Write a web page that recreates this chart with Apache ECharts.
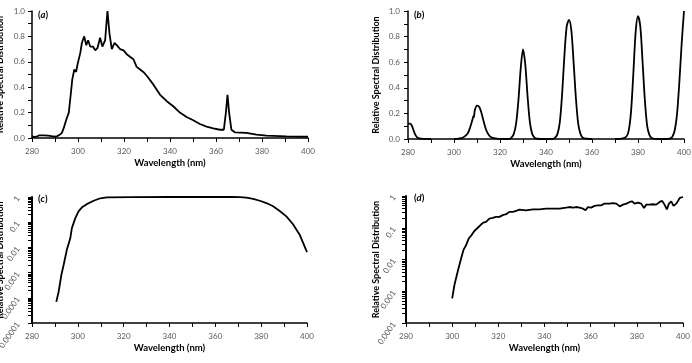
<!DOCTYPE html>
<html>
<head>
<meta charset="utf-8">
<script src="https://cdn.jsdelivr.net/npm/echarts@6/dist/echarts.min.js"></script>
<style>
html,body{margin:0;padding:0;background:#fff;}
#c{width:692px;height:363px;}
</style>
</head>
<body>
<div id="c"></div>
<script>
// ---------- data ----------
const xTickLabels = [280, 300, 320, 340, 360, 380, 400];
const linTickLabels = ['0.0', '0.2', '0.4', '0.6', '0.8', '1.0'];
const logTickLabelsC = ['0.00001', '0.0001', '0.001', '0.01', '0.1', '1'];
const logTickLabelsD = ['0.0001', '0.001', '0.01', '0.1', '1'];
const minorMultipliers = [2, 3, 4, 5, 6, 7, 8, 9];
const panelLetters = ['a', 'b', 'c', 'd'];

// (a)
const wlA = [280, 281, 282, 283, 285, 287, 289, 290, 291, 292, 293, 294, 295, 296, 297, 297.5, 298.4, 299.2, 299.8, 301, 301.7, 302.7, 303.6, 304.4, 305.3, 306.5, 307.5, 308.5, 309.6, 310.6, 311.8, 312.8, 313.7, 314.7, 315.9, 316.9, 318.3, 319.8, 321.2, 322.6, 324.1, 325.5, 327, 328.4, 329.9, 332.8, 335.7, 338.6, 341.4, 344.3, 347.2, 350.1, 353, 355.9, 358.8, 361.7, 363.4, 364.3, 365, 365.7, 366.7, 368.2, 373.2, 377.6, 381.9, 390.6, 400];
const valA = [0.013, 0.008, 0.01, 0.02, 0.02, 0.018, 0.013, 0.01, 0.015, 0.025, 0.04, 0.09, 0.15, 0.2, 0.37, 0.46, 0.54, 0.52, 0.58, 0.67, 0.75, 0.8, 0.73, 0.77, 0.72, 0.72, 0.69, 0.71, 0.79, 0.72, 0.77, 1.0, 0.82, 0.70, 0.75, 0.73, 0.70, 0.69, 0.66, 0.64, 0.62, 0.56, 0.54, 0.52, 0.49, 0.42, 0.34, 0.29, 0.25, 0.2, 0.165, 0.14, 0.11, 0.09, 0.076, 0.065, 0.065, 0.2, 0.34, 0.2, 0.065, 0.045, 0.04, 0.026, 0.018, 0.013, 0.01];

// (b)  (null = gap in the measured spectrum)
const wlB = [280, 281, 281.5, 282, 283, 284, 285, 287, 290, 295, 300, 302, 304, 306, 307, 308, 308.5, 308.7, 309, 310, 311, 312, 313, 314, 315, 316, 318, 320, 322, 324, 325, 326, 327, 328, 329, 330, 331, 332, 333, 334, 335, 336, 340, 343, 344, 345, 346, 347, 348, 349, 350, 351, 352, 353, 354, 355, 356, 358, 360, 365, 370, 373, 375, 376, 377, 378, 379, 380, 381, 382, 383, 384, 385, 386, 388, 390, 392, 394, 395, 396, 397, 398, 399, 400];
const valB = [0.12, 0.12, 0.11, 0.09, 0.04, 0.012, 0.004, 0.001, 0, null, 0, 0.003, 0.012, 0.045, 0.09, 0.15, 0.18, 0.17, 0.22, 0.26, 0.25, 0.2, 0.13, 0.07, 0.035, 0.015, 0.004, 0.001, 0, 0, 0.01, 0.04, 0.12, 0.3, 0.55, 0.70, 0.58, 0.33, 0.13, 0.04, 0.01, 0.002, 0, 0, 0.01, 0.04, 0.13, 0.35, 0.65, 0.88, 0.93, 0.85, 0.6, 0.32, 0.12, 0.04, 0.01, 0.002, 0, null, 0, 0.003, 0.02, 0.07, 0.22, 0.52, 0.84, 0.96, 0.88, 0.6, 0.3, 0.1, 0.03, 0.008, 0, 0, 0, 0.005, 0.02, 0.07, 0.2, 0.45, 0.75, 1.0];

// (c)
const wlC = [290.6, 291.6, 292.8, 293.8, 295.2, 296.7, 297.4, 298.9, 300.3, 301.8, 303.9, 306.9, 309.8, 312.7, 324.3, 340, 360, 367, 370.7, 373.6, 376.5, 379.4, 382.3, 385.2, 388.1, 391, 393.9, 396.8, 400];
const valC = [0.000069, 0.00017, 0.0008, 0.002, 0.008, 0.023, 0.058, 0.145, 0.27, 0.39, 0.52, 0.71, 0.89, 0.97, 0.99, 1.0, 1.0, 1.0, 0.98, 0.95, 0.85, 0.71, 0.575, 0.43, 0.28, 0.17, 0.083, 0.032, 0.0065];

// (d)
const wlD = [300, 301, 302.4, 303.9, 304.9, 306, 307.2, 308.2, 309.6, 311.1, 312.5, 313.5, 314.7, 316.1, 317.6, 319, 320.5, 321.9, 323.4, 324.8, 326.3, 327.7, 329.2, 332, 335, 337.8, 340.7, 343.6, 346.5, 349.4, 350.8, 352.3, 353.7, 355.2, 356.7, 357.8, 358.8, 360.2, 361.7, 363.1, 364.6, 366, 368.2, 369.6, 371.1, 372.6, 374, 375.5, 376.9, 378, 379, 380.5, 381.9, 383.1, 384.1, 385.5, 387, 388.4, 389.9, 391, 392, 393, 393.9, 394.9, 395.9, 397.1, 398.6, 400];
const valD = [0.0006, 0.0016, 0.0042, 0.011, 0.02, 0.028, 0.046, 0.056, 0.079, 0.10, 0.126, 0.145, 0.154, 0.195, 0.205, 0.22, 0.22, 0.25, 0.267, 0.316, 0.316, 0.34, 0.37, 0.355, 0.38, 0.38, 0.40, 0.40, 0.40, 0.43, 0.45, 0.43, 0.45, 0.43, 0.40, 0.355, 0.45, 0.43, 0.49, 0.51, 0.51, 0.575, 0.575, 0.60, 0.575, 0.47, 0.535, 0.575, 0.65, 0.68, 0.575, 0.62, 0.575, 0.42, 0.535, 0.535, 0.55, 0.535, 0.65, 0.70, 0.535, 0.38, 0.575, 0.68, 0.49, 0.575, 0.87, 0.93];

// ---------- chart ----------
const zip = (xs, ys) => xs.map((x, i) => [x, ys[i] === null ? '-' : ys[i]]);
const FONT = 'Lato, "Liberation Sans", sans-serif';
const labelColor = '#595959';

const grids = [
  {left: 32, top: 11, width: 276, height: 127},
  {left: 408, top: 11, width: 276, height: 128},
  {left: 32, top: 197, width: 275, height: 126},
  {left: 406, top: 196, width: 277, height: 127}
].map(g => Object.assign(g, {outerBoundsMode: 'none', containLabel: false}));

function xAxisFor(gi) {
  return {
    type: 'value', gridIndex: gi, min: 280, max: 400, interval: 20,
    name: 'Wavelength (nm)', nameLocation: 'middle', nameGap: 20, nameMoveOverlap: false,
    nameTextStyle: {fontFamily: FONT, fontWeight: 'bold', fontSize: 9.5, color: '#000'},
    axisLine: {show: true, onZero: false, lineStyle: {color: '#000', width: 1.5}},
    axisTick: {show: true, length: 4, lineStyle: {color: '#000', width: 1}},
    minorTick: {show: true, splitNumber: 2, length: 4, lineStyle: {color: '#000', width: 1}},
    splitLine: {show: false}, minorSplitLine: {show: false},
    axisLabel: {fontFamily: FONT, fontSize: 8, color: labelColor, margin: 9,
      formatter: v => (xTickLabels.indexOf(v) >= 0 ? String(v) : '')}
  };
}
function yNameStyle() {
  return {fontFamily: FONT, fontWeight: 'bold', fontSize: 9, color: '#000'};
}
function linY(gi, gap, margin) {
  return {
    type: 'value', gridIndex: gi, min: 0, max: 1, interval: 0.2,
    name: 'Relative Spectral Distribution', nameLocation: 'middle', nameGap: gap, nameMoveOverlap: false,
    nameTextStyle: yNameStyle(),
    axisLine: {show: true, lineStyle: {color: '#000', width: 1.5}},
    axisTick: {show: true, length: 4, lineStyle: {color: '#000', width: 1}},
    minorTick: {show: true, splitNumber: 2, length: 4, lineStyle: {color: '#000', width: 1}},
    splitLine: {show: false}, minorSplitLine: {show: false},
    axisLabel: {fontFamily: FONT, fontSize: 8, color: labelColor, margin: margin,
      formatter: v => linTickLabels[Math.round(v * 5)]}
  };
}
function logY(gi, minExp, labels, gap, margin) {
  return {
    type: 'log', logBase: 10, gridIndex: gi, min: Math.pow(10, minExp), max: 1,
    splitNumber: -minExp,
    name: 'Relative Spectral Distribution', nameLocation: 'middle', nameGap: gap, nameMoveOverlap: false,
    nameTextStyle: yNameStyle(),
    axisLine: {show: true, lineStyle: {color: '#000', width: 2}},
    axisTick: {show: true, length: 4, lineStyle: {color: '#000', width: 1}},
    splitLine: {show: false},
    axisLabel: {fontFamily: FONT, fontSize: 8, color: labelColor, margin: margin, rotate: 55,
      formatter: v => labels[Math.round(Math.log10(v)) - minExp] || ''}
  };
}
function minorLogY(gi, minExp) {
  const vals = [];
  for (let e = minExp; e < 0; e++) {
    minorMultipliers.forEach(m => vals.push(e + Math.log10(m)));
  }
  return {
    type: 'value', gridIndex: gi, min: minExp, max: 0, position: 'left', offset: 0,
    axisLine: {show: false},
    axisTick: {show: true, length: 4, customValues: vals, lineStyle: {color: '#000', width: 1}},
    axisLabel: {show: false}, splitLine: {show: false}
  };
}

const lineStyle = {color: '#000', width: 1.8};
function seriesFor(i, data, yIdx, smooth) {
  return {
    type: 'line', xAxisIndex: i, yAxisIndex: yIdx, data: data,
    showSymbol: false, symbol: 'none', connectNulls: false, smooth: smooth || false,
    lineStyle: lineStyle, itemStyle: {color: '#000'}, animation: false
  };
}

const panelPos = [[38, 10], [414, 10], [38, 194], [414, 193]];
const titles = panelLetters.map((l, i) => ({
  text: '{p|(}{i|' + l + '}{p|)}',
  left: panelPos[i][0], top: panelPos[i][1], padding: 0,
  textStyle: {rich: {
    p: {fontFamily: FONT, fontWeight: 'bold', fontSize: 9.5, color: '#000'},
    i: {fontFamily: FONT, fontWeight: 'bold', fontStyle: 'italic', fontSize: 9.5, color: '#000'}
  }}
}));

const option = {
  backgroundColor: '#fff',
  animation: false,
  title: titles,
  grid: grids,
  xAxis: [xAxisFor(0), xAxisFor(1), xAxisFor(2), xAxisFor(3)],
  yAxis: [
    linY(0, 27, 7),
    linY(1, 27, 8),
    logY(2, -5, logTickLabelsC, 27, 14),
    logY(3, -4, logTickLabelsD, 25, 12),
    minorLogY(2, -5),
    minorLogY(3, -4)
  ],
  series: [
    seriesFor(0, zip(wlA, valA), 0),
    seriesFor(1, zip(wlB, valB), 1, 0.3),
    seriesFor(2, zip(wlC, valC), 2),
    seriesFor(3, zip(wlD, valD), 3)
  ]
};
const chart = echarts.init(document.getElementById('c'), null, {renderer: 'canvas'});
chart.setOption(option);
</script>
</body>
</html>
